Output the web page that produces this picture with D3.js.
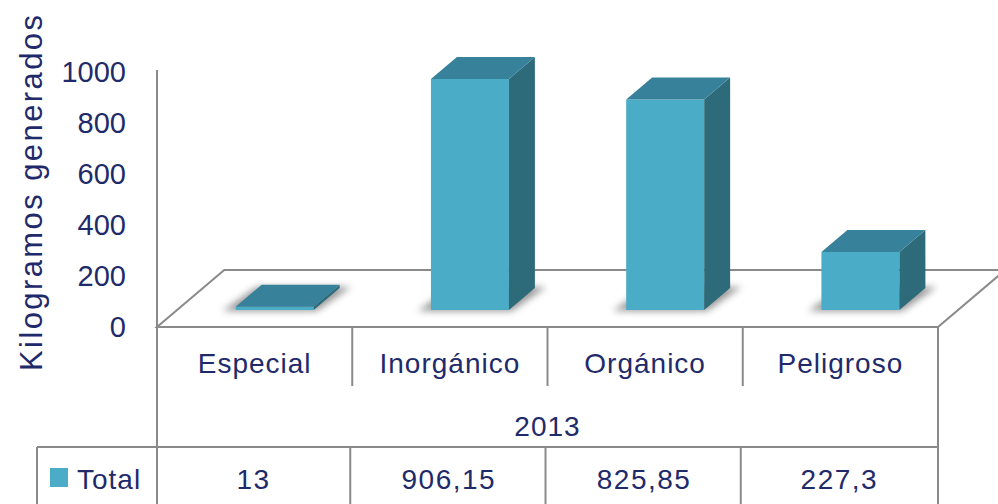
<!DOCTYPE html>
<html>
<head>
<meta charset="utf-8">
<script src="https://cdn.jsdelivr.net/npm/d3@7"></script>
<style>
    body { margin: 0; background: #fff; }
    text { font-family: "Liberation Sans", Arial, sans-serif; fill: #1f2a6b; }
</style>
</head>
<body>
<script>
// data (kg generated, 2013)
var categories = ["Especial", "Inorgánico", "Orgánico", "Peligroso"];
var totals = [13, 906.15, 825.85, 227.3];
var yearLabel = "2013";
var seriesName = "Total";
var yTicks = [0, 200, 400, 600, 800, 1000];

var width = 998, height = 504;
var floorY = 327,           // front edge of the floor
    depth = 57,             // floor depth (screen px upwards)
    slant = 1.18,           // x shift per px of depth
    barZ0 = 17, barZ1 = 39, // bar front / back depth
    barW = 78;

var colFront = "#4aacc6", colSide = "#2e6b7a", colTop = "#37819a",
    lineCol = "#8a8a8a";

function proj(x, y, z) { return [x + z * slant, y - z]; }

var x = d3.scaleBand()
    .domain(categories)
    .range([157, 938]);

var y = d3.scaleLinear()
    .domain([0, 1000])
    .range([floorY, floorY - 255]);

var svg = d3.select("body").append("svg")
    .attr("width", width)
    .attr("height", height);

var defs = svg.append("defs");
defs.append("filter").attr("id", "blur")
    .attr("x", "-50%").attr("y", "-50%")
    .attr("width", "200%").attr("height", "200%")
    .append("feGaussianBlur").attr("stdDeviation", 3.5);

var line = d3.line();

// floor
var x0 = x.range()[0], x1 = x.range()[1];
svg.append("path")
    .attr("d", line([proj(x0, floorY, 0), proj(x1, floorY, 0),
        proj(x1, floorY, depth), proj(x0, floorY, depth)]) + "Z")
    .attr("fill", "#fff")
    .attr("stroke", lineCol)
    .attr("stroke-width", 2);

// soft shadows under the bars
svg.selectAll("path.shadow")
    .data(categories)
    .enter().append("path")
    .attr("class", "shadow")
    .attr("d", function(d) {
        var bx = x(d) + (x.bandwidth() - barW) / 2;
        return line([proj(bx - 12, floorY, barZ0 - 1), proj(bx + barW + 4, floorY, barZ0 - 1),
            proj(bx + barW + 10, floorY, barZ1 + 1), proj(bx - 6, floorY, barZ1 + 1)]) + "Z";
    })
    .attr("fill", "#444")
    .attr("opacity", 0.55)
    .attr("filter", "url(#blur)");

// bars
var bars = svg.selectAll("g.bar")
    .data(categories.map(function(c, i) { return {cat: c, value: totals[i]}; }))
    .enter().append("g")
    .attr("class", "bar");

function face(d, which) {
    var bx = x(d.cat) + (x.bandwidth() - barW) / 2;
    var yb = y(0), yt = y(d.value);
    if (which == "front") {
        return line([proj(bx, yb, barZ0), proj(bx + barW, yb, barZ0),
            proj(bx + barW, yt, barZ0), proj(bx, yt, barZ0)]) + "Z";
    } else if (which == "side") {
        return line([proj(bx + barW, yb, barZ0), proj(bx + barW, yb, barZ1),
            proj(bx + barW, yt, barZ1), proj(bx + barW, yt, barZ0)]) + "Z";
    }
    return line([proj(bx, yt, barZ0), proj(bx + barW, yt, barZ0),
        proj(bx + barW, yt, barZ1), proj(bx, yt, barZ1)]) + "Z";
}

bars.append("path").attr("d", function(d) { return face(d, "front"); })
    .attr("fill", colFront);
bars.append("path").attr("d", function(d) { return face(d, "side"); })
    .attr("fill", colSide);
bars.append("path").attr("d", function(d) { return face(d, "top"); })
    .attr("fill", colTop);

// y axis labels
var yAxis = svg.append("g")
    .attr("transform", "translate(157,0)")
    .call(d3.axisLeft(y).tickValues(yTicks).tickFormat(d3.format("d"))
        .tickSize(0).tickPadding(31));
yAxis.select(".domain").remove();
yAxis.selectAll("text")
    .attr("fill", "#1f2a6b")
    .style("font-size", "29px")
    .style("font-family", "Liberation Sans, Arial, sans-serif");

svg.append("text")
    .attr("transform", "translate(42,193) rotate(-90)")
    .attr("text-anchor", "middle")
    .attr("textLength", 356)
    .attr("lengthAdjust", "spacing")
    .style("font-size", "31px")
    .text("Kilogramos generados");

// data table lines
var tbl = svg.append("g")
    .attr("stroke", lineCol)
    .attr("stroke-width", 2)
    .attr("fill", "none");
var rowCat = 386, rowYear = 447, rowEnd = 510;

tbl.append("line").attr("x1", x0).attr("x2", x0).attr("y1", 70).attr("y2", rowEnd);
tbl.append("line").attr("x1", x1).attr("x2", x1).attr("y1", floorY).attr("y2", rowEnd);
tbl.append("line").attr("x1", 37).attr("x2", x1).attr("y1", rowYear).attr("y2", rowYear);
tbl.append("line").attr("x1", 37).attr("x2", 37).attr("y1", rowYear).attr("y2", rowEnd);

tbl.selectAll("line.div")
    .data(categories.slice(1))
    .enter().append("line")
    .attr("class", "div")
    .attr("x1", function(d) { return x(d); })
    .attr("x2", function(d) { return x(d); })
    .attr("y1", floorY)
    .attr("y2", rowCat);

tbl.selectAll("line.div2")
    .data(categories.slice(1))
    .enter().append("line")
    .attr("class", "div2")
    .attr("x1", function(d) { return x(d) - 2; })
    .attr("x2", function(d) { return x(d) - 2; })
    .attr("y1", rowYear)
    .attr("y2", rowEnd);

// category labels
svg.selectAll("text.cat")
    .data(categories)
    .enter().append("text")
    .attr("class", "cat")
    .attr("x", function(d) { return x(d) + x.bandwidth() / 2; })
    .attr("y", 373)
    .attr("text-anchor", "middle")
    .style("font-size", "28px")
    .style("letter-spacing", "1px")
    .text(function(d) { return d; });

svg.append("text")
    .attr("x", (x0 + x1) / 2)
    .attr("y", 436)
    .attr("text-anchor", "middle")
    .style("font-size", "28px")
    .style("letter-spacing", "1px")
    .text(yearLabel);

// value row
svg.selectAll("text.val")
    .data(totals)
    .enter().append("text")
    .attr("class", "val")
    .attr("x", function(d, i) { return x(categories[i]) + x.bandwidth() / 2 - 1; })
    .attr("y", 489)
    .attr("text-anchor", "middle")
    .style("font-size", "28px")
    .style("letter-spacing", "1.5px")
    .text(function(d) { return String(d).replace(".", ","); });

// legend key
svg.append("rect")
    .attr("x", 50).attr("y", 468)
    .attr("width", 18).attr("height", 19)
    .attr("fill", colFront);
svg.append("text")
    .attr("x", 77)
    .attr("y", 489)
    .style("font-size", "28px")
    .style("letter-spacing", "1px")
    .text(seriesName);
</script>
</body>
</html>
